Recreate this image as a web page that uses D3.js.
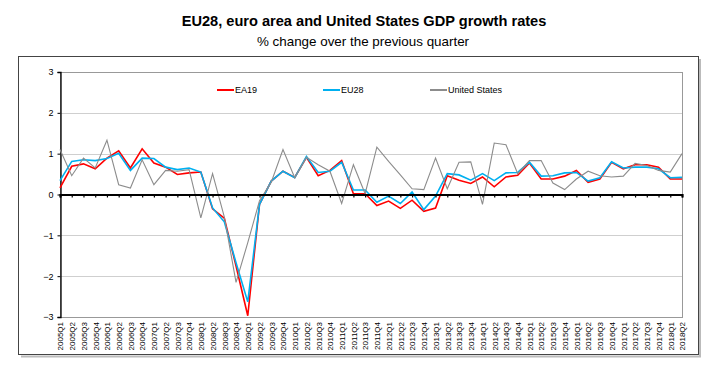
<!DOCTYPE html>
<html>
<head>
<meta charset="utf-8">
<script src="https://cdn.jsdelivr.net/npm/d3@7/dist/d3.min.js"></script>
<style>
  html, body { margin: 0; padding: 0; background: #fff; }
  svg { display: block; }
  text { font-family: "Liberation Sans", Arial, sans-serif; fill: #000; }
</style>
</head>
<body>
<svg id="chart" width="714" height="366"></svg>
<script>
const quarters = [];
const years = [2005,2006,2007,2008,2009,2010,2011,2012,2013,2014,2015,2016,2017,2018];
years.forEach(y => [1,2,3,4].forEach(q => { if (!(y === 2018 && q > 2)) quarters.push(y + "Q" + q); }));

const ea19 = [0.16,0.69,0.75,0.63,0.89,1.07,0.65,1.12,0.77,0.67,
              0.49,0.53,0.55,-0.35,-0.58,-1.75,-2.97,-0.24,0.33,0.57,
              0.42,0.91,0.46,0.59,0.83,0.02,0.02,-0.27,-0.16,-0.34,
              -0.14,-0.41,-0.33,0.46,0.35,0.27,0.43,0.19,0.43,0.47,
              0.77,0.38,0.38,0.45,0.59,0.30,0.38,0.79,0.63,0.73,
              0.73,0.67,0.38,0.38];
const eu28 = [0.34,0.81,0.85,0.83,0.88,1.01,0.59,0.89,0.88,0.67,
              0.61,0.65,0.55,-0.33,-0.67,-1.67,-2.63,-0.24,0.33,0.57,
              0.41,0.93,0.54,0.57,0.79,0.11,0.11,-0.19,-0.04,-0.22,
              0.06,-0.37,-0.04,0.51,0.48,0.35,0.51,0.34,0.53,0.54,
              0.79,0.45,0.46,0.53,0.54,0.33,0.41,0.80,0.65,0.67,
              0.67,0.63,0.41,0.42];
const us = [1.10,0.46,0.89,0.65,1.33,0.24,0.16,0.85,0.24,0.59,
            0.57,0.61,-0.57,0.51,-0.55,-2.15,-1.18,-0.15,0.30,1.10,
            0.41,0.91,0.73,0.57,-0.22,0.73,0.02,1.16,0.81,0.48,
            0.14,0.12,0.89,0.14,0.79,0.80,-0.24,1.26,1.22,0.51,
            0.83,0.83,0.28,0.12,0.38,0.57,0.46,0.43,0.45,0.76,
            0.71,0.59,0.55,1.00];
const yTicks = [-3,-2,-1,0,1,2,3];
const seriesNames = ["EA19","EU28","United States"];
const seriesColors = ["#ff0000","#00b0f0","#8c8c8c"];
const seriesWidths = [1.6,1.6,1.1];

const svg = d3.select("#chart");
const L = 60, R = 682, T = 72, B = 317;

// outer frame with shadow
svg.append("path").attr("d","M700,59V356.5H21").attr("fill","none").attr("stroke","#bbb").attr("stroke-width",2);
svg.append("rect").attr("x",18.5).attr("y",56.5).attr("width",680).attr("height",298)
  .attr("fill","#fff").attr("stroke","#444").attr("stroke-width",1);

// titles
svg.append("text").attr("x",364).attr("y",26).attr("text-anchor","middle")
  .style("font-size","14.6px").style("font-weight","bold")
  .text("EU28, euro area and United States GDP growth rates");
svg.append("text").attr("x",363).attr("y",46).attr("text-anchor","middle")
  .style("font-size","13.4px")
  .text("% change over the previous quarter");

const x = d3.scalePoint().domain(quarters).range([L, R]);
const y = d3.scaleLinear().domain([-3, 3]).range([B, T]);

// plot border
svg.append("rect").attr("x",L+0.5).attr("y",T+0.5).attr("width",R-L).attr("height",B-T)
  .attr("fill","none").attr("stroke","#999");

// gridlines
svg.append("g").selectAll("line").data(yTicks.filter(v => v !== 0 && Math.abs(v) !== 3)).join("line")
  .attr("x1",L).attr("x2",R).attr("y1",d => Math.round(y(d))+0.5).attr("y2",d => Math.round(y(d))+0.5)
  .attr("stroke","#cfcfcf").attr("stroke-width",1.2);

// y axis
const yAxis = svg.append("g").attr("transform",`translate(${L+0.5},0)`)
  .call(d3.axisLeft(y).tickValues(yTicks).tickSize(3).tickPadding(4).tickFormat(d3.format("d")));
yAxis.select(".domain").attr("stroke","#000").attr("stroke-width",1.3);
yAxis.selectAll("text").style("font-size","9px").style("font-family","Liberation Sans, Arial, sans-serif").attr("fill","#000");

// x labels at bottom
const xLab = svg.append("g").attr("transform",`translate(0,${B})`)
  .call(d3.axisBottom(x).tickSize(0).tickPadding(0));
xLab.select(".domain").remove();
xLab.selectAll("text")
  .style("font-size","8px").style("font-family","Liberation Sans, Arial, sans-serif").attr("fill","#000")
  .attr("text-anchor","end").attr("transform","rotate(-90)")
  .attr("x",-5).attr("y",0).attr("dy","0.35em");

// series lines
const series = [ea19, eu28, us];
series.forEach((vals, k) => {
  const line = d3.line().x((d,i) => x(quarters[i])).y(d => y(d));
  svg.append("path").datum(vals).attr("d", line)
    .attr("fill","none").attr("stroke",seriesColors[k]).attr("stroke-width",seriesWidths[k])
    .attr("stroke-linejoin","miter");
});

// zero axis
const zAxis = svg.append("g").attr("transform",`translate(0,${y(0)})`)
  .call(d3.axisBottom(x).tickSize(3).tickFormat(""));
zAxis.select(".domain").attr("stroke","#000").attr("stroke-width",2.2);
zAxis.selectAll(".tick line").attr("stroke","#000").attr("stroke-width",1.2);

// legend
const legX = [217, 323, 430];
const leg = svg.append("g");
seriesNames.forEach((n, k) => {
  leg.append("line").attr("x1",legX[k]).attr("x2",legX[k]+17).attr("y1",90).attr("y2",90)
    .attr("stroke",seriesColors[k]).attr("stroke-width",2);
  leg.append("text").attr("x",legX[k]+18).attr("y",90).attr("dy","0.35em")
    .style("font-size","9px").text(n);
});
</script>
</body>
</html>
